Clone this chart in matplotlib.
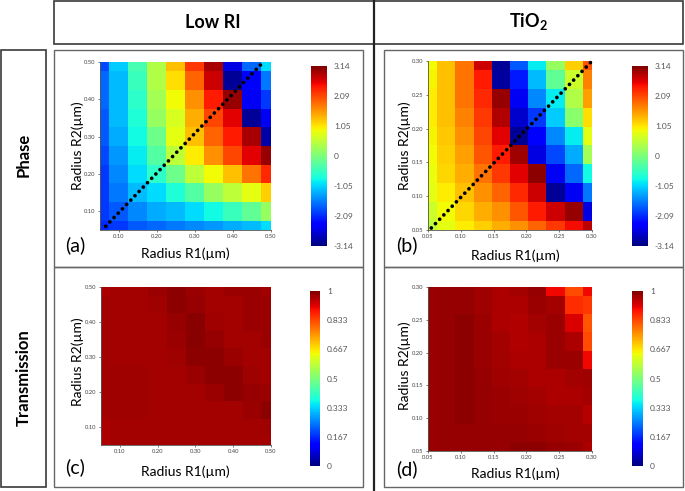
import matplotlib
matplotlib.use("Agg")
import matplotlib.pyplot as plt
from matplotlib.patches import Rectangle
from matplotlib.lines import Line2D

plt.rcParams["font.family"] = ["Lato", "DejaVu Sans"]
plt.rcParams["mathtext.fontset"] = "custom"
plt.rcParams["mathtext.rm"] = "Lato"
plt.rcParams["mathtext.bf"] = "Lato:bold"

# radius grids (cell centres, um)
r_low = [0.05, 0.10, 0.15, 0.20, 0.25, 0.30, 0.35, 0.40, 0.45, 0.50]
r_tio2 = [0.050, 0.078, 0.106, 0.133, 0.161, 0.189, 0.217, 0.244, 0.272, 0.300]
low_ticks = [0.10, 0.20, 0.30, 0.40, 0.50]
tio2_ticks = [0.05, 0.10, 0.15, 0.20, 0.25, 0.30]

# phase (rad), rows listed from top (largest R2) to bottom
phase_low = [
    [-1.9, -1.1, -0.4, 0.4, 1.3, 2.2, 2.9, -2.6, -1.7, -1.0],
    [-1.7, -1.2, -0.5, 0.4, 1.1, 1.9, 2.7, -3.0, -2.4, -1.6],
    [-1.7, -1.2, -0.6, 0.3, 0.9, 1.6, 2.4, 3.0, -2.5, -2.0],
    [-1.8, -1.2, -0.7, 0.2, 0.7, 1.4, 2.1, 2.6, -3.0, -2.5],
    [-1.8, -1.3, -0.8, -0.1, 0.8, 1.3, 1.9, 2.4, 2.9, -2.9],
    [-1.9, -1.4, -0.9, -0.3, 0.5, 1.0, 1.6, 2.1, 2.6, 3.0],
    [-2.0, -1.5, -1.0, -0.6, -0.1, 0.5, 0.9, 1.3, 1.8, 2.3],
    [-2.0, -1.6, -1.2, -1.0, -0.7, -0.3, 0.2, 0.5, 0.8, 1.2],
    [-2.0, -1.8, -1.5, -1.3, -1.2, -1.0, -0.8, -0.5, -0.2, 0.2],
    [-2.1, -2.0, -1.8, -1.7, -1.6, -1.5, -1.4, -1.3, -1.2, -1.0],
]
phase_tio2 = [
    [0.9, 1.3, 1.8, 2.7, -3.0, -1.8, -0.9, 0.2, 1.2, 2.0],
    [0.95, 1.3, 1.8, 2.4, -2.95, -2.2, -1.2, -0.2, 0.6, 1.7],
    [1.0, 1.3, 1.8, 2.3, 3.0, -2.5, -1.5, -0.9, 0.4, 1.5],
    [1.0, 1.3, 1.7, 2.2, 2.85, -2.7, -2.0, -1.1, 0.1, 1.1],
    [0.95, 1.25, 1.6, 2.1, 2.6, -3.0, -2.4, -1.5, -0.9, 0.8],
    [0.9, 1.2, 1.5, 2.0, 2.4, 2.95, -2.6, -1.9, -1.3, 0.3],
    [0.85, 1.15, 1.4, 1.8, 2.2, 2.6, 3.05, -2.5, -1.7, -0.8],
    [0.8, 1.0, 1.3, 1.6, 1.9, 2.3, 2.7, -3.0, -2.5, -1.6],
    [0.6, 0.9, 1.15, 1.4, 1.6, 2.0, 2.4, 2.7, 3.0, -2.6],
    [0.5, 0.8, 1.0, 1.2, 1.4, 1.6, 1.9, 2.2, 2.5, 2.8],
]

# transmission, rows from top to bottom
trans_low = [
    [0.96, 0.965, 0.965, 0.975, 0.985, 0.975, 0.965, 0.975, 0.975, 0.965],
    [0.965, 0.965, 0.965, 0.97, 0.985, 0.98, 0.965, 0.965, 0.975, 0.975],
    [0.965, 0.965, 0.965, 0.965, 0.98, 0.99, 0.97, 0.965, 0.975, 0.975],
    [0.965, 0.965, 0.965, 0.965, 0.975, 0.99, 0.98, 0.965, 0.965, 0.975],
    [0.965, 0.965, 0.965, 0.965, 0.97, 0.985, 0.985, 0.975, 0.965, 0.965],
    [0.965, 0.97, 0.97, 0.965, 0.965, 0.975, 0.985, 0.985, 0.97, 0.965],
    [0.965, 0.97, 0.97, 0.965, 0.965, 0.965, 0.975, 0.985, 0.98, 0.975],
    [0.965, 0.97, 0.97, 0.965, 0.965, 0.965, 0.965, 0.965, 0.975, 0.985],
    [0.96, 0.965, 0.965, 0.965, 0.965, 0.965, 0.965, 0.965, 0.965, 0.97],
    [0.96, 0.965, 0.965, 0.965, 0.965, 0.965, 0.965, 0.965, 0.965, 0.965],
]
trans_tio2 = [
    [0.975, 0.98, 0.98, 0.97, 0.96, 0.965, 0.98, 0.9, 0.83, 0.9],
    [0.975, 0.98, 0.98, 0.97, 0.96, 0.96, 0.975, 0.965, 0.86, 0.85],
    [0.975, 0.98, 0.985, 0.975, 0.96, 0.955, 0.965, 0.975, 0.92, 0.82],
    [0.975, 0.98, 0.985, 0.975, 0.965, 0.955, 0.96, 0.975, 0.96, 0.83],
    [0.975, 0.98, 0.985, 0.975, 0.965, 0.96, 0.96, 0.975, 0.975, 0.9],
    [0.975, 0.98, 0.985, 0.98, 0.97, 0.965, 0.96, 0.96, 0.965, 0.97],
    [0.975, 0.98, 0.985, 0.98, 0.975, 0.97, 0.965, 0.96, 0.96, 0.965],
    [0.975, 0.98, 0.985, 0.98, 0.975, 0.975, 0.97, 0.965, 0.965, 0.95],
    [0.975, 0.98, 0.98, 0.98, 0.98, 0.98, 0.975, 0.97, 0.965, 0.965],
    [0.975, 0.98, 0.98, 0.98, 0.98, 0.985, 0.985, 0.98, 0.975, 0.96],
]

phase_ticks = [3.14, 2.09, 1.05, 0, -1.05, -2.09, -3.14]
phase_labels = ["3.14", "2.09", "1.05", "0", "-1.05", "-2.09", "-3.14"]
trans_ticks = [1, 0.833, 0.667, 0.5, 0.333, 0.167, 0]
trans_labels = ["1", "0.833", "0.667", "0.5", "0.333", "0.167", "0"]

# diagonal guide lines drawn on the phase maps (R1, R2 endpoints)
diag_low = ([0.065, 0.475], [0.06, 0.495])
diag_tio2 = ([0.055, 0.30], [0.053, 0.30])

W, H = 685, 491
fig = plt.figure(figsize=(W / 100, H / 100), dpi=100)


def rect(x0, y0, x1, y1):
    return [x0 / W, 1 - y1 / H, (x1 - x0) / W, (y1 - y0) / H]


def box(x0, y0, x1, y1, color="#3a3a3a", lw=1.2):
    fig.add_artist(Rectangle((x0 / W, 1 - y1 / H), (x1 - x0) / W, (y1 - y0) / H,
                             transform=fig.transFigure, fill=False, ec=color, lw=lw))


def ftext(x, y, s, **kw):
    fig.text(x / W, 1 - y / H, s, ha="center", va="center", **kw)


def heatmap(ax_px, cb_px, data, r, ticks, vmin, vmax, cticks, clabels, diag=None):
    ax = fig.add_axes(rect(*ax_px))
    half = (r[1] - r[0]) / 2
    im = ax.imshow(data, cmap="jet", vmin=vmin, vmax=vmax, aspect="auto",
                   interpolation="nearest", origin="upper",
                   extent=[r[0] - half, r[-1] + half, r[0] - half, r[-1] + half])
    ax.set_xlim(r[0], r[-1])
    ax.set_ylim(r[0], r[-1])
    ax.set_xticks(ticks)
    ax.set_yticks(ticks)
    ax.set_xticklabels([f"{t:.2f}" for t in ticks])
    ax.set_yticklabels([f"{t:.2f}" for t in ticks])
    ax.tick_params(labelsize=4.2, length=1.5, width=0.5, pad=1.5, colors="#444444")
    for s in ["top", "right"]:
        ax.spines[s].set_visible(False)
    for s in ["left", "bottom"]:
        ax.spines[s].set_linewidth(0.6)
        ax.spines[s].set_color("#555555")
    if diag is not None:
        ax.plot(diag[0], diag[1], color="black", lw=2.7, linestyle=(0, (0.01, 1.6)),
                dash_capstyle="round", clip_on=False)
    cax = fig.add_axes(rect(*cb_px))
    cb = fig.colorbar(im, cax=cax, ticks=cticks)
    cb.set_ticklabels(clabels)
    cb.outline.set_visible(False)
    cax.tick_params(labelsize=6, length=0, pad=5, colors="#555555")
    return ax


# frames
box(54, 1, 683, 44)
box(1, 50, 46, 487)
box(54, 50, 363, 267, color="#666666", lw=1.0)
box(54, 267, 363, 487, color="#666666", lw=1.0)
box(384, 50, 683, 267, color="#666666", lw=1.0)
box(384, 267, 683, 487, color="#666666", lw=1.0)
fig.add_artist(Line2D([374 / W, 374 / W], [0, 1], transform=fig.transFigure,
                      color="#222222", lw=1.6))

ftext(213, 22, "Low RI", fontsize=13, fontweight="bold")
ftext(528, 22, r"TiO$_\mathbf{2}$", fontsize=13, fontweight="bold")
ftext(24, 155, "Phase", fontsize=12, fontweight="bold", rotation=90)
ftext(24, 378, "Transmission", fontsize=12, fontweight="bold", rotation=90)

heatmap((100, 62, 271, 230), (311, 66, 327, 246), phase_low, r_low, low_ticks,
        -3.14, 3.14, phase_ticks, phase_labels, diag=diag_low)
heatmap((428, 61, 592, 230), (632, 66, 648, 246), phase_tio2, r_tio2, tio2_ticks,
        -3.14, 3.14, phase_ticks, phase_labels, diag=diag_tio2)
heatmap((101, 287, 271, 445), (310, 291, 320, 466), trans_low, r_low, low_ticks,
        0, 1, trans_ticks, trans_labels)
heatmap((428, 287, 592, 451), (632, 291, 643, 466), trans_tio2, r_tio2, tio2_ticks,
        0, 1, trans_ticks, trans_labels)

# axis titles and panel letters
for cx, cy, letter, lx, ly, ry in [(185, 254, "(a)", 75, 245, 146),
                                   (515, 256, "(b)", 407, 245, 146),
                                   (185, 472, "(c)", 75, 467, 362),
                                   (515, 474, "(d)", 407, 469, 366)]:
    ftext(cx, cy, "Radius R1(µm)", fontsize=10)
    ftext(lx, ly, letter, fontsize=14)
    ftext(lx + 3 if letter in "(a)(c)" else lx - 2, ry, "Radius R2(µm)", fontsize=10, rotation=90)

fig.savefig("out.png", dpi=100)
